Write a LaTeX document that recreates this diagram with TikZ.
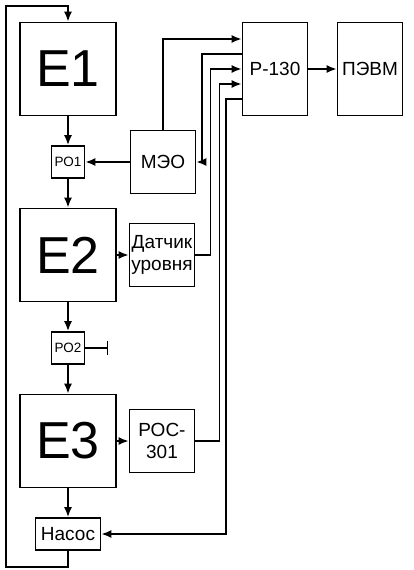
\documentclass[tikz,border=0pt]{standalone}
\usepackage{fontspec}
\setmainfont{Liberation Sans}
\usetikzlibrary{arrows.meta}

\begin{document}
\begin{tikzpicture} [
    x=1pt, y=1pt,
    line width=1.7pt,
    node distance=93pt,
    >={Latex[length=10pt,width=8pt]},
  ]

  \tikzstyle{tank} = [
    draw,
    minimum width=96pt,
    minimum height=93pt,
    inner sep=0pt,
    font=\fontsize{52}{52}\selectfont,
  ]
  \tikzstyle{valve} = [
    draw,
    minimum width=33pt,
    minimum height=32pt,
    inner sep=1pt,
    font=\fontsize{13.5}{13.5}\selectfont,
  ]
  \tikzstyle{unit} = [
    draw,
    minimum width=65pt,
    minimum height=63pt,
    inner sep=1pt,
    align=center,
    font=\fontsize{19}{22}\selectfont,
  ]
  \tikzstyle{tall} = [unit, minimum height=93pt]
  \tikzstyle{pump} = [unit, minimum height=32pt]

  \useasboundingbox (0,0) rectangle (413,-570);

  % main column
  \node[tank] at (68,-69)    (e1)    {Е1};
  \node[valve,below of=e1]   (ro1)   {РО1};
  \node[tank,below of=ro1]   (e2)    {Е2};
  \node[valve,below of=e2]   (ro2)   {РО2};
  \node[tank,below of=ro2]   (e3)    {Е3};
  \node[pump,below of=e3]    (nasos) {Насос};

  % second column
  \node[unit,node distance=95pt,right of=ro1] (meo)  {МЭО};
  \node[unit,node distance=94pt,right of=e2]  (dat)  {Датчик\\уровня};
  \node[unit,node distance=94pt,right of=e3]  (ros)  {РОС-\\301};

  \node[tall,node distance=207pt,right of=e1]  (r130) {Р-130};
  \node[tall,node distance=95pt,right of=r130] (pevm) {ПЭВМ};

  \coordinate (lb) at (6,-567);
  \coordinate (lt) at (6,-6);

  \draw[->] (e1)  -- (ro1);
  \draw[->] (ro1) -- (e2);
  \draw[->] (e2)  -- (ro2);
  \draw[->] (ro2) -- (e3);
  \draw[->] (e3)  -- (nasos);
  \draw[-{Bar[width=14pt]}] (ro2.east) -- ++(23,0);
  \draw[->] (nasos.south) |- (lb) -- (lt) -| (e1.north);

  \draw[->] (meo) -- (ro1);
  \draw[->] (e2)  -- (dat);
  \draw[->] (e3)  -- (ros);
  \draw[->] (r130) -- (pevm);

  % signals to and from P-130
  \draw[->] (meo.north) |- ([yshift=30pt]r130.west);
  \draw[->] ([yshift=15pt]r130.west) -- ++(-40,0) |- (meo.east);
  \draw[->] (dat.east) -- ++(15,0) |- (r130.west);
  \draw[->] (ros.east) -- ++(24,0) |- ([yshift=-15pt]r130.west);
  \draw[->] ([yshift=-30pt]r130.west) -- ++(-16,0) |- (nasos.east);

\end{tikzpicture}
\end{document}
